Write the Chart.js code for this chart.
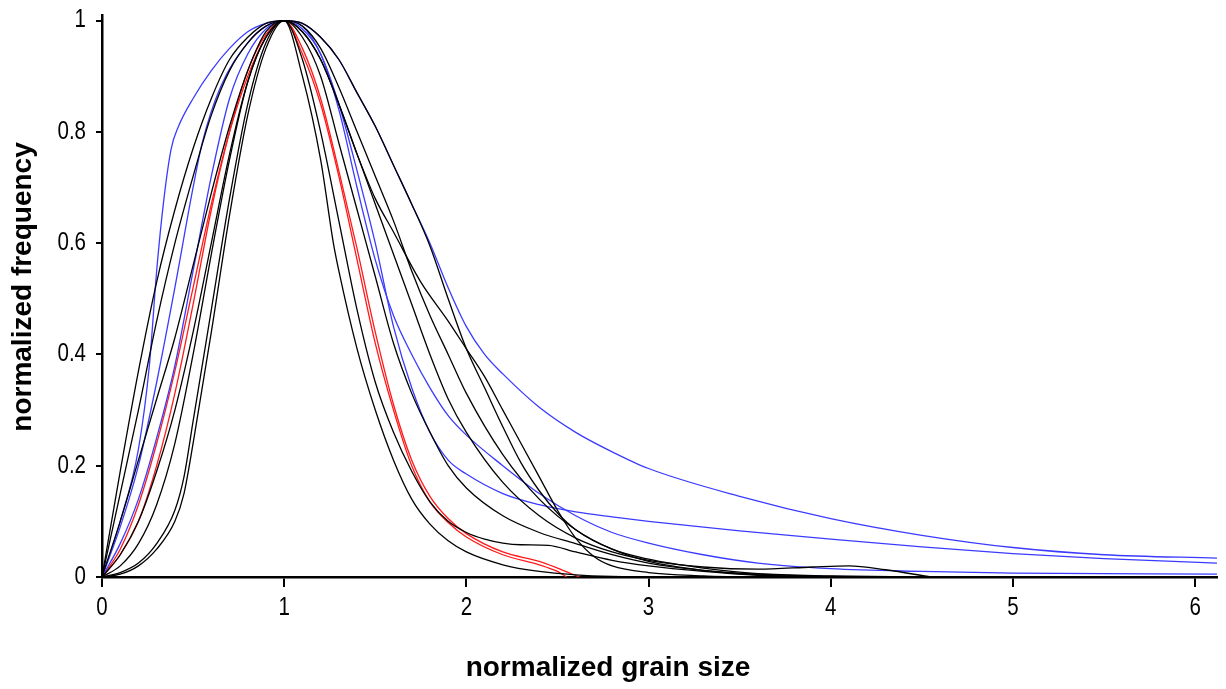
<!DOCTYPE html>
<html><head><meta charset="utf-8">
<script src="https://cdn.jsdelivr.net/npm/chart.js@4.4.1/dist/chart.umd.min.js"></script>
<style>html,body{margin:0;padding:0;background:#fff;overflow:hidden}#wrap{width:1226px;height:689px;position:relative}</style>
</head><body><div id="wrap"><canvas id="c" width="1226" height="689"></canvas></div>
<script>
const xTicks = [0,1,2,3,4,5,6];
const xTickLabels = ['0','1','2','3','4','5','6'];
const yTicks = [0,0.2,0.4,0.6,0.8,1];
const yTickLabels = ['0','0.2','0.4','0.6','0.8','1'];
const xTitle = 'normalized grain size';
const yTitle = 'normalized frequency';

const blue1 = [[0,0],[0.1,0.1],[0.2,0.23],[0.26,0.38],[0.3,0.55],[0.34,0.68],[0.38,0.77],[0.42,0.81],[0.5,0.86],[0.6,0.91],[0.7,0.95],[0.8,0.98],[0.9,0.995],[1,1],
  [1.1,0.995],[1.2,0.97],[1.3,0.93],[1.4,0.87],[1.5,0.81],[1.6,0.74],[1.7,0.67],[1.8,0.6],[1.9,0.52],[2.0,0.45],[2.1,0.4],[2.2,0.365],[2.4,0.305],[2.6,0.26],[2.8,0.225],[3.0,0.195],[3.5,0.145],[4.0,0.105],[4.5,0.075],[5.0,0.053],[5.5,0.04],[6.12,0.034]];
const blue2 = [[0,0],[0.1,0.09],[0.2,0.2],[0.3,0.35],[0.4,0.52],[0.5,0.7],[0.55,0.78],[0.65,0.88],[0.8,0.96],[0.9,0.99],[1,1],
  [1.1,0.99],[1.2,0.94],[1.3,0.85],[1.4,0.73],[1.5,0.6],[1.6,0.45],[1.7,0.34],[1.8,0.26],[1.9,0.21],[2.0,0.185],[2.2,0.15],[2.4,0.13],[2.6,0.117],[2.8,0.108],[3.0,0.1],[3.5,0.083],[4.0,0.068],[4.5,0.054],[5.0,0.042],[5.5,0.033],[6.12,0.025]];
const blue3 = [[0,0],[0.1,0.06],[0.2,0.14],[0.3,0.25],[0.4,0.38],[0.5,0.55],[0.6,0.72],[0.7,0.86],[0.8,0.94],[0.9,0.985],[1,1],
  [1.1,0.985],[1.2,0.94],[1.3,0.84],[1.4,0.7],[1.5,0.57],[1.6,0.47],[1.7,0.4],[1.8,0.34],[1.9,0.29],[2.0,0.255],[2.2,0.2],[2.4,0.15],[2.6,0.11],[2.8,0.08],[3.0,0.061],[3.3,0.04],[3.6,0.025],[4.0,0.015],[4.5,0.01],[5.0,0.007],[6.12,0.005]];
const red1 = [[0,0],[0.1,0.05],[0.2,0.13],[0.3,0.24],[0.4,0.37],[0.5,0.52],[0.6,0.67],[0.7,0.8],[0.8,0.9],[0.9,0.97],[1,1],
  [1.1,0.95],[1.2,0.86],[1.3,0.73],[1.4,0.59],[1.5,0.44],[1.6,0.31],[1.7,0.21],[1.8,0.145],[1.9,0.105],[2.0,0.078],[2.2,0.045],[2.4,0.028],[2.5,0.016],[2.62,0]];
const red2 = [[0,0],[0.1,0.04],[0.2,0.1],[0.3,0.2],[0.4,0.33],[0.5,0.49],[0.6,0.66],[0.7,0.8],[0.8,0.91],[0.9,0.975],[1,1],
  [1.1,0.94],[1.2,0.85],[1.3,0.72],[1.4,0.57],[1.5,0.42],[1.6,0.3],[1.7,0.2],[1.8,0.135],[1.9,0.098],[2.0,0.072],[2.2,0.04],[2.4,0.022],[2.5,0.01],[2.55,0]];
const black1 = [[0,0],[0.1,0.19],[0.2,0.37],[0.3,0.53],[0.4,0.66],[0.5,0.77],[0.6,0.86],[0.7,0.93],[0.8,0.97],[0.9,0.995],[1,1],
  [1.1,0.995],[1.2,0.97],[1.3,0.93],[1.4,0.87],[1.5,0.81],[1.6,0.74],[1.7,0.67],[1.8,0.595],[1.9,0.5],[2.0,0.41],[2.1,0.34],[2.2,0.27],[2.3,0.205],[2.4,0.155],[2.5,0.115],[2.6,0.085],[2.8,0.05],[3.0,0.032],[3.3,0.016],[3.6,0.006],[4.0,0.002],[4.5,0]];
const black2 = [[0,0],[0.1,0.15],[0.2,0.3],[0.3,0.46],[0.4,0.6],[0.5,0.72],[0.6,0.83],[0.7,0.91],[0.8,0.96],[0.9,0.99],[1,1],
  [1.1,0.99],[1.2,0.95],[1.3,0.88],[1.4,0.8],[1.5,0.72],[1.6,0.64],[1.7,0.55],[1.8,0.47],[1.9,0.4],[2.0,0.33],[2.2,0.22],[2.4,0.14],[2.6,0.085],[2.8,0.05],[3.0,0.028],[3.3,0.012],[3.6,0.004],[4.0,0]];
const black3 = [[0,0],[0.1,0.1],[0.2,0.21],[0.3,0.32],[0.4,0.43],[0.5,0.56],[0.6,0.69],[0.7,0.81],[0.8,0.91],[0.9,0.98],[1,1],
  [1.1,0.98],[1.2,0.93],[1.3,0.85],[1.4,0.76],[1.5,0.67],[1.6,0.58],[1.7,0.49],[1.8,0.4],[1.9,0.32],[2.0,0.26],[2.2,0.17],[2.4,0.11],[2.6,0.07],[2.8,0.045],[3.0,0.03],[3.3,0.018],[3.6,0.014],[3.9,0.018],[4.1,0.02],[4.3,0.013],[4.55,0]];
const black4 = [[0,0],[0.1,0.04],[0.2,0.1],[0.3,0.19],[0.4,0.3],[0.5,0.44],[0.6,0.6],[0.7,0.76],[0.8,0.89],[0.9,0.97],[1,1],
  [1.1,0.98],[1.2,0.93],[1.3,0.85],[1.4,0.76],[1.5,0.68],[1.6,0.62],[1.75,0.53],[1.9,0.46],[2.0,0.41],[2.1,0.36],[2.2,0.3],[2.3,0.24],[2.4,0.18],[2.5,0.12],[2.6,0.07],[2.7,0.037],[2.8,0.02],[3.0,0.008],[3.3,0.002],[3.5,0]];
const black5 = [[0,0],[0.1,0.02],[0.2,0.06],[0.3,0.13],[0.4,0.24],[0.5,0.4],[0.6,0.58],[0.7,0.75],[0.8,0.89],[0.9,0.97],[1,1],
  [1.1,0.97],[1.2,0.9],[1.3,0.78],[1.4,0.66],[1.5,0.54],[1.6,0.42],[1.7,0.33],[1.8,0.26],[1.9,0.2],[2.0,0.16],[2.2,0.11],[2.4,0.08],[2.6,0.06],[2.8,0.04],[3.0,0.025],[3.3,0.012],[3.6,0.005],[4.0,0.001],[4.3,0]];
const black6 = [[0,0],[0.1,0.008],[0.2,0.025],[0.3,0.06],[0.4,0.12],[0.45,0.18],[0.5,0.28],[0.6,0.48],[0.7,0.68],[0.8,0.85],[0.9,0.96],[1,1],
  [1.1,0.9],[1.2,0.75],[1.27,0.6],[1.3,0.55],[1.4,0.41],[1.5,0.3],[1.6,0.21],[1.7,0.14],[1.8,0.095],[1.9,0.065],[2.0,0.045],[2.2,0.022],[2.4,0.01],[2.6,0.004],[2.8,0.001],[3.0,0]];
const black7 = [[0,0],[0.1,0.005],[0.2,0.02],[0.3,0.05],[0.4,0.1],[0.45,0.15],[0.5,0.24],[0.6,0.44],[0.7,0.65],[0.8,0.83],[0.9,0.95],[1,1],
  [1.1,0.93],[1.2,0.8],[1.3,0.64],[1.4,0.48],[1.5,0.35],[1.6,0.26],[1.7,0.19],[1.8,0.135],[1.9,0.1],[2.0,0.08],[2.1,0.068],[2.2,0.061],[2.3,0.058],[2.45,0.057],[2.6,0.045],[2.8,0.03],[3.0,0.02],[3.3,0.01],[3.6,0.003],[4.0,0]];

const BLACK = '#000000', BLUE = '#3b3bff', RED = '#ff1a1a';
const series = [
  [black1, BLACK],[black2, BLACK],[black3, BLACK],[black4, BLACK],[black5, BLACK],[black6, BLACK],[black7, BLACK],
  [blue1, BLUE],[blue2, BLUE],[blue3, BLUE],
  [red1, RED],[red2, RED]
];

const datasets = series.map(([pts, col]) => ({
  data: pts.map(p => ({x: p[0], y: p[1]})),
  showLine: true, borderColor: col, borderWidth: 1.3, pointRadius: 0,
  cubicInterpolationMode: 'monotone', fill: false
}));

const textPlugin = {
  id: 'axisText',
  afterDraw(chart) {
    const ctx = chart.ctx, xs = chart.scales.x, ys = chart.scales.y;
    ctx.save();
    ctx.fillStyle = '#000';
    ctx.font = "25px 'Liberation Sans', Arial, sans-serif";
    ctx.textBaseline = 'middle';
    const sx = 0.82;
    xTicks.forEach((v, i) => {
      const px = xs.getPixelForValue(v);
      ctx.save(); ctx.translate(px, 608); ctx.scale(sx, 1);
      ctx.textAlign = 'center'; ctx.fillText(xTickLabels[i], 0, 0); ctx.restore();
    });
    yTicks.forEach((v, i) => {
      const py = ys.getPixelForValue(v);
      ctx.save(); ctx.translate(86, py); ctx.scale(sx, 1);
      ctx.textAlign = 'right'; ctx.fillText(yTickLabels[i], 0, 0); ctx.restore();
    });
    ctx.font = "bold 28px 'Liberation Sans', Arial, sans-serif";
    ctx.textAlign = 'center';
    ctx.fillText(xTitle, 608, 668);
    ctx.save(); ctx.translate(23, 287); ctx.rotate(-Math.PI / 2);
    ctx.fillText(yTitle, 0, 0); ctx.restore();
    ctx.restore();
  }
};

new Chart(document.getElementById('c'), {
  type: 'scatter',
  data: {datasets},
  plugins: [textPlugin],
  options: {
    responsive: false, animation: false, devicePixelRatio: 1,
    layout: {padding: {top: 15, right: 9, left: 0, bottom: 0}},
    plugins: {legend: {display: false}, tooltip: {enabled: false}},
    scales: {
      x: {
        type: 'linear', min: 0, max: 6.12,
        afterBuildTicks: s => { s.ticks = xTicks.map(v => ({value: v})); },
        afterFit: s => { s.height = 112; },
        ticks: {display: false},
        grid: {display: true, drawOnChartArea: false, drawTicks: true, tickLength: 10, color: '#000', lineWidth: 2},
        border: {display: true, color: '#000', width: 2.5}
      },
      y: {
        type: 'linear', min: 0, max: 1.01,
        afterBuildTicks: s => { s.ticks = yTicks.map(v => ({value: v})); },
        afterFit: s => { s.width = 102; },
        ticks: {display: false},
        grid: {display: true, drawOnChartArea: false, drawTicks: true, tickLength: 6, color: '#000', lineWidth: 2},
        border: {display: true, color: '#000', width: 2.5}
      }
    }
  }
});
</script></body></html>
